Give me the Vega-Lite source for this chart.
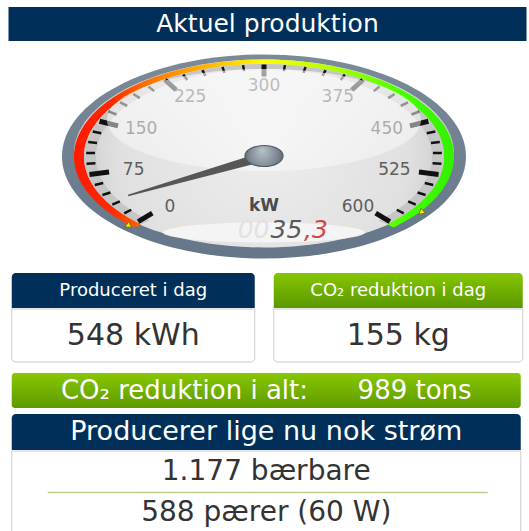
{
  "$schema": "https://vega.github.io/schema/vega-lite/v6.json",
  "padding": {"left": 6, "top": 7, "right": 0, "bottom": 0},
  "autosize": {"type": "pad"},
  "background": "#ffffff",
  "config": {"font": "DejaVu Sans", "view": {"stroke": null}},
  "datasets": {
    "heading": [{"heading": "Aktuel produktion", "unit": "kW"}],
    "gaugeTicks": [
      {"v": 0}, {"v": 15}, {"v": 30}, {"v": 45}, {"v": 60}, {"v": 75}, {"v": 90}, {"v": 105}, {"v": 120}, {"v": 135},
      {"v": 150}, {"v": 165}, {"v": 180}, {"v": 195}, {"v": 210}, {"v": 225}, {"v": 240}, {"v": 255}, {"v": 270}, {"v": 285},
      {"v": 300}, {"v": 315}, {"v": 330}, {"v": 345}, {"v": 360}, {"v": 375}, {"v": 390}, {"v": 405}, {"v": 420}, {"v": 435},
      {"v": 450}, {"v": 465}, {"v": 480}, {"v": 495}, {"v": 510}, {"v": 525}, {"v": 540}, {"v": 555}, {"v": 570}, {"v": 585},
      {"v": 600}
    ],
    "currentOutput": [{"kw": 35.3}],
    "extremes": [{"marker": "min", "kw": 0}, {"marker": "max", "kw": 577}],
    "today": [
      {"card": "produced", "label": "Produceret i dag", "amount": "548 kWh"},
      {"card": "co2", "label": "CO₂ reduktion i dag", "amount": "155 kg"}
    ],
    "total": [{"label": "CO₂ reduktion i alt:", "amount": "989 tons"}],
    "nowHeading": [{"heading": "Producerer lige nu nok strøm"}],
    "equivalents": [{"equivalent": "1.177 bærbare"}, {"equivalent": "588 pærer (60 W)"}]
  },
  "spacing": 6,
  "center": true,
  "vconcat": [
    {
      "width": 518,
      "height": 34,
      "data": {"name": "heading"},
      "layer": [
        {"mark": {"type": "rect", "fill": "#00305a"}, "encoding": {}},
        {"mark": {"type": "text", "color": "#ffffff", "fontSize": 25}, "encoding": {"text": {"field": "heading"}}}
      ]
    },
    {
      "width": 523,
      "height": 220,
      "layer": [
        {
          "data": {"name": "currentOutput"},
          "mark": {"type": "point", "shape": "M-2.02,0A2.02,1.02 0 1,1 2.02,0A2.02,1.02 0 1,1 -2.02,0Z", "size": 40000, "filled": true, "opacity": 1, "strokeWidth": 0,
            "fill": {"gradient": "linear", "x1": 0, "y1": 0, "x2": 0, "y2": 1, "stops": [{"offset": 0, "color": "#7a8a98"}, {"offset": 1, "color": "#65768a"}]}},
          "encoding": {
            "x": {"datum": 0, "type": "quantitative", "scale": {"domain": [-1.2772, 1.3119], "nice": false, "zero": false}, "axis": null},
            "y": {"datum": 0, "type": "quantitative", "scale": {"domain": [-1.0833, 1.0735], "nice": false, "zero": false}, "axis": null}
          }
        },
        {
          "data": {"name": "currentOutput"},
          "mark": {"type": "point", "shape": "M-1.9,-0.03A1.9,0.94 0 1,1 1.9,-0.03A1.9,0.94 0 1,1 -1.9,-0.03Z", "size": 40000, "filled": true, "opacity": 1, "strokeWidth": 0,
            "fill": {"gradient": "radial", "x1": 0.5, "y1": 0.45, "r1": 0, "x2": 0.5, "y2": 0.5, "r2": 0.55, "stops": [{"offset": 0, "color": "#eeeeee"}, {"offset": 0.7, "color": "#e0e0e0"}, {"offset": 1, "color": "#c4c4c4"}]}},
          "encoding": {"x": {"datum": 0, "type": "quantitative"}, "y": {"datum": 0, "type": "quantitative"}}
        },
        {
          "data": {"name": "currentOutput"},
          "mark": {"type": "point", "shape": "M-1.2958,0.7095A1.9,0.97 0 1,1 1.2958,0.7095L1.2276,0.6765A1.8,0.925 0 1,0 -1.2276,0.6765Z", "size": 40000, "filled": true, "opacity": 1, "strokeWidth": 0,
            "fill": {"gradient": "linear", "x1": 0, "y1": 0, "x2": 1, "y2": 0, "stops": [
              {"offset": 0, "color": "#ff1a00"}, {"offset": 0.1, "color": "#ff2a00"}, {"offset": 0.18, "color": "#ff6a00"},
              {"offset": 0.3, "color": "#ffa000"}, {"offset": 0.4, "color": "#ffcc00"}, {"offset": 0.5, "color": "#ffff00"},
              {"offset": 0.62, "color": "#ccff00"}, {"offset": 0.75, "color": "#88ff00"}, {"offset": 0.88, "color": "#44ff00"}, {"offset": 1, "color": "#33f000"}]}},
          "encoding": {"x": {"datum": 0, "type": "quantitative"}, "y": {"datum": 0, "type": "quantitative"}}
        },
        {
          "data": {"name": "currentOutput"},
          "mark": {"type": "point", "shape": "M-1.2276,0.6765A1.8,0.925 0 1,1 1.2276,0.6765L1.1458,0.64A1.68,0.875 0 1,0 -1.1458,0.64Z", "size": 40000, "filled": true, "opacity": 1, "strokeWidth": 0, "fill": "#c6c6c6"},
          "encoding": {"x": {"datum": 0, "type": "quantitative"}, "y": {"datum": 0, "type": "quantitative"}}
        },
        {
          "data": {"name": "gaugeTicks"},
          "transform": [
            {"calculate": "(-135 + 0.45 * datum.v) * PI / 180", "as": "a"},
            {"calculate": "datum.v % 75 === 0", "as": "major"},
            {"calculate": "0.881 * sin(datum.a)", "as": "xo"},
            {"calculate": "0.902 * cos(datum.a)", "as": "yo"},
            {"calculate": "(datum.major ? 0.782 : 0.837) * sin(datum.a)", "as": "xi"},
            {"calculate": "(datum.major ? 0.784 : 0.843) * cos(datum.a)", "as": "yi"}
          ],
          "mark": {"type": "rule", "color": "#111111", "strokeCap": "butt"},
          "encoding": {
            "x": {"field": "xo", "type": "quantitative"},
            "y": {"field": "yo", "type": "quantitative"},
            "x2": {"field": "xi"},
            "y2": {"field": "yi"},
            "strokeWidth": {"condition": {"test": "datum.v % 75 === 0", "value": 5}, "value": 2.5}
          }
        },
        {
          "data": {"name": "gaugeTicks"},
          "transform": [
            {"filter": "datum.v % 75 === 0"},
            {"calculate": "(-135 + 0.45 * datum.v) * PI / 180", "as": "a"},
            {"calculate": "0.658 * sin(datum.a)", "as": "lx"},
            {"calculate": "0.696 * cos(datum.a)", "as": "ly"}
          ],
          "mark": {"type": "text", "fontSize": 17, "color": "#5e5e5e", "align": "center", "baseline": "middle"},
          "encoding": {
            "x": {"field": "lx", "type": "quantitative"},
            "y": {"field": "ly", "type": "quantitative"},
            "text": {"field": "v", "type": "quantitative", "format": "d"}
          }
        },
        {
          "data": {"name": "currentOutput"},
          "mark": {"type": "point", "shape": "M-1.01,0.76A1.01,0.1 0 1,1 1.01,0.76A1.01,0.1 0 1,1 -1.01,0.76Z", "size": 40000, "filled": true, "opacity": 0.85, "strokeWidth": 0, "fill": "#f7f7f7"},
          "encoding": {"x": {"datum": 0, "type": "quantitative"}, "y": {"datum": 0, "type": "quantitative"}}
        },
        {
          "data": {"name": "currentOutput"},
          "mark": {"type": "point", "shape": "M-1.57,-0.365A1.57,0.51 0 1,1 1.57,-0.365A1.57,0.51 0 1,1 -1.57,-0.365Z", "size": 40000, "filled": true, "opacity": 1, "strokeWidth": 0,
            "fill": {"gradient": "linear", "x1": 0, "y1": 0, "x2": 0, "y2": 1, "stops": [{"offset": 0, "color": "rgba(255,255,255,0.62)"}, {"offset": 1, "color": "rgba(255,255,255,0.38)"}]}},
          "encoding": {"x": {"datum": 0, "type": "quantitative"}, "y": {"datum": 0, "type": "quantitative"}}
        },
        {
          "data": {"name": "heading"},
          "mark": {"type": "text", "fontSize": 17, "fontWeight": "bold", "color": "#4a4a4a", "align": "center", "baseline": "middle"},
          "encoding": {"x": {"datum": 0, "type": "quantitative"}, "y": {"datum": -0.49, "type": "quantitative"}, "text": {"field": "unit"}}
        },
        {
          "data": {"name": "currentOutput"},
          "mark": {"type": "text", "text": "00", "fontSize": 25, "fontStyle": "italic", "fontWeight": 200, "color": "#e2e2e2", "align": "right", "baseline": "middle"},
          "encoding": {"x": {"datum": 0.027, "type": "quantitative"}, "y": {"datum": -0.72, "type": "quantitative"}}
        },
        {
          "data": {"name": "currentOutput"},
          "transform": [{"calculate": "format(floor(datum.kw), 'd')", "as": "whole"}],
          "mark": {"type": "text", "fontSize": 25, "fontStyle": "italic", "fontWeight": 200, "color": "#5a5a5a", "align": "right", "baseline": "middle"},
          "encoding": {"x": {"datum": 0.19, "type": "quantitative"}, "y": {"datum": -0.72, "type": "quantitative"}, "text": {"field": "whole"}}
        },
        {
          "data": {"name": "currentOutput"},
          "transform": [{"calculate": "',' + format(round((datum.kw - floor(datum.kw)) * 10), 'd')", "as": "dec"}],
          "mark": {"type": "text", "fontSize": 25, "fontStyle": "italic", "fontWeight": 200, "color": "#d04848", "align": "left", "baseline": "middle"},
          "encoding": {"x": {"datum": 0.198, "type": "quantitative"}, "y": {"datum": -0.72, "type": "quantitative"}, "text": {"field": "dec"}}
        },
        {
          "data": {"name": "extremes"},
          "transform": [
            {"calculate": "(-135 + 0.45 * datum.kw) * PI / 180", "as": "a"},
            {"calculate": "0.955 * sin(datum.a)", "as": "mx"},
            {"calculate": "0.96 * cos(datum.a)", "as": "my"},
            {"calculate": "atan2(202 * sin(datum.a), 102 * cos(datum.a)) * 180 / PI", "as": "ang"}
          ],
          "mark": {"type": "point", "shape": "triangle-up", "size": 45, "filled": true, "opacity": 1, "fill": "#f7e600", "stroke": "#6d6400", "strokeWidth": 0.8},
          "encoding": {
            "x": {"field": "mx", "type": "quantitative"},
            "y": {"field": "my", "type": "quantitative"},
            "angle": {"field": "ang", "type": "quantitative", "scale": null}
          }
        },
        {
          "data": {"name": "currentOutput"},
          "transform": [
            {"calculate": "(-135 + 0.45 * datum.kw) * PI / 180", "as": "a"},
            {"calculate": "0.77 * 202 * sin(datum.a)", "as": "px"},
            {"calculate": "0.786 * 102 * cos(datum.a)", "as": "py"},
            {"calculate": "atan2(datum.px, datum.py) * 180 / PI", "as": "ang"},
            {"calculate": "4 * (datum.px * datum.px + datum.py * datum.py)", "as": "sz"}
          ],
          "mark": {"type": "point", "shape": "M-0.035,0.06L-0.005,-1L0.005,-1L0.035,0.06Z", "filled": true, "opacity": 1, "strokeWidth": 0, "fill": "#575757"},
          "encoding": {
            "x": {"datum": 0, "type": "quantitative"},
            "y": {"datum": 0, "type": "quantitative"},
            "angle": {"field": "ang", "type": "quantitative", "scale": null},
            "size": {"field": "sz", "type": "quantitative", "scale": null}
          }
        },
        {
          "data": {"name": "currentOutput"},
          "mark": {"type": "point", "shape": "M-0.19,-0.005A0.19,0.105 0 1,1 0.19,-0.005A0.19,0.105 0 1,1 -0.19,-0.005Z", "size": 40000, "filled": true, "opacity": 1, "stroke": "#505b65", "strokeWidth": 1.2,
            "fill": {"gradient": "radial", "x1": 0.45, "y1": 0.35, "r1": 0, "x2": 0.5, "y2": 0.5, "r2": 0.55, "stops": [{"offset": 0, "color": "#b9c2ca"}, {"offset": 0.6, "color": "#838f99"}, {"offset": 1, "color": "#5a6570"}]}},
          "encoding": {"x": {"datum": 0, "type": "quantitative"}, "y": {"datum": 0, "type": "quantitative"}}
        }
      ]
    },
    {
      "spacing": 10,
      "vconcat": [
        {
          "spacing": 17,
          "hconcat": [
            {
              "spacing": 0,
              "vconcat": [
                {
                  "width": 243, "height": 35,
                  "data": {"name": "today"},
                  "transform": [{"filter": "datum.card === 'produced'"}],
                  "layer": [
                    {"mark": {"type": "rect", "fill": "#00305a", "cornerRadiusTopLeft": 4, "cornerRadiusTopRight": 4}, "encoding": {}},
                    {"mark": {"type": "text", "color": "#ffffff", "fontSize": 18}, "encoding": {"text": {"field": "label"}}}
                  ]
                },
                {
                  "width": 243, "height": 53,
                  "data": {"name": "today"},
                  "transform": [{"filter": "datum.card === 'produced'"}],
                  "layer": [
                    {"mark": {"type": "rect", "fill": "#ffffff", "stroke": "#cccccc", "strokeWidth": 1, "cornerRadiusBottomLeft": 4, "cornerRadiusBottomRight": 4}, "encoding": {}},
                    {"mark": {"type": "text", "color": "#333333", "fontSize": 30}, "encoding": {"text": {"field": "amount"}}}
                  ]
                }
              ]
            },
            {
              "spacing": 0,
              "vconcat": [
                {
                  "width": 249, "height": 35,
                  "data": {"name": "today"},
                  "transform": [{"filter": "datum.card === 'co2'"}],
                  "layer": [
                    {"mark": {"type": "rect", "cornerRadiusTopLeft": 4, "cornerRadiusTopRight": 4,
                      "fill": {"gradient": "linear", "x1": 0, "y1": 0, "x2": 0, "y2": 1, "stops": [{"offset": 0, "color": "#86c600"}, {"offset": 1, "color": "#5b9800"}]}}, "encoding": {}},
                    {"mark": {"type": "text", "color": "#ffffff", "fontSize": 18}, "encoding": {"text": {"field": "label"}}}
                  ]
                },
                {
                  "width": 249, "height": 53,
                  "data": {"name": "today"},
                  "transform": [{"filter": "datum.card === 'co2'"}],
                  "layer": [
                    {"mark": {"type": "rect", "fill": "#ffffff", "stroke": "#cccccc", "strokeWidth": 1, "cornerRadiusBottomLeft": 4, "cornerRadiusBottomRight": 4}, "encoding": {}},
                    {"mark": {"type": "text", "color": "#333333", "fontSize": 30}, "encoding": {"text": {"field": "amount"}}}
                  ]
                }
              ]
            }
          ]
        },
        {
          "spacing": 6,
          "vconcat": [
            {
              "width": 509, "height": 35,
              "data": {"name": "total"},
              "transform": [{"calculate": "datum.label + '\u00a0\u00a0\u00a0\u00a0\u00a0\u00a0' + datum.amount", "as": "line"}],
              "layer": [
                {"mark": {"type": "rect", "cornerRadius": 3,
                  "fill": {"gradient": "linear", "x1": 0, "y1": 0, "x2": 0, "y2": 1, "stops": [{"offset": 0, "color": "#88c700"}, {"offset": 1, "color": "#5d9a00"}]}}, "encoding": {}},
                {"mark": {"type": "text", "color": "#ffffff", "fontSize": 26}, "encoding": {"text": {"field": "line"}}}
              ]
            },
            {
              "spacing": 0,
              "vconcat": [
                {
                  "width": 509, "height": 36,
                  "data": {"name": "nowHeading"},
                  "layer": [
                    {"mark": {"type": "rect", "fill": "#00305a", "cornerRadiusTopLeft": 4, "cornerRadiusTopRight": 4}, "encoding": {}},
                    {"mark": {"type": "text", "color": "#ffffff", "fontSize": 27}, "encoding": {"text": {"field": "heading"}}}
                  ]
                },
                {
                  "width": 509, "height": 83,
                  "data": {"name": "equivalents"},
                  "layer": [
                    {"data": {"name": "nowHeading"}, "mark": {"type": "rect", "fill": "#ffffff", "stroke": "#cccccc", "strokeWidth": 1}, "encoding": {}},
                    {
                      "mark": {"type": "text", "color": "#333333", "fontSize": 28},
                      "encoding": {
                        "y": {"field": "equivalent", "type": "nominal", "sort": null, "axis": null, "scale": {"paddingInner": 0, "paddingOuter": 0}},
                        "text": {"field": "equivalent"}
                      }
                    },
                    {
                      "transform": [{"filter": {"field": "equivalent", "oneOf": ["1.177 bærbare"]}}],
                      "mark": {"type": "rule", "color": "#b3d48a", "strokeWidth": 1.5, "x": 36, "x2": 476},
                      "encoding": {"y": {"field": "equivalent", "type": "nominal", "bandPosition": 1, "sort": null, "axis": null}}
                    }
                  ]
                }
              ]
            }
          ]
        }
      ]
    }
  ]
}
